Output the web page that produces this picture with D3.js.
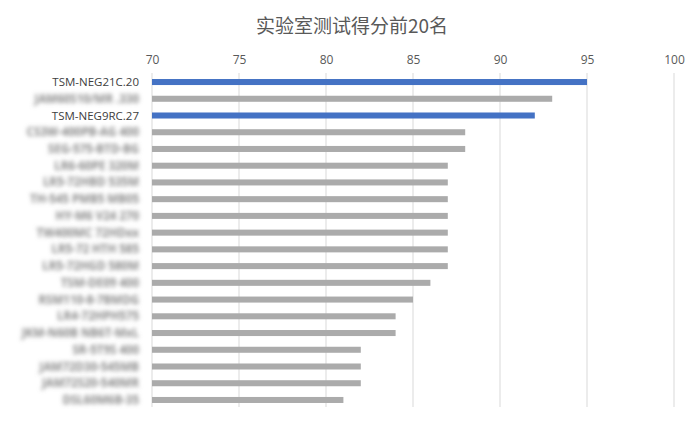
<!DOCTYPE html>
<html>
<head>
<meta charset="utf-8">
<script src="https://cdn.jsdelivr.net/npm/d3@7"></script>
<style>
  body { margin: 0; background: #fff; }
  svg { display: block; }
</style>
</head>
<body>
<div id="chart"></div>
<script>
// chart data
const labels = [
  'TSM-NEG21C.20', 'JAM60S10/MR .330', 'TSM-NEG9RC.27', 'CS3W-400PB-AG 400',
  'SEG-575-BTD-BG', 'LR6-60PE 320M', 'LR5-72HBD 535M', 'TH-545 PMB5 MB05',
  'HY-M6 V24 270', 'TW400MC 72HDxx', 'LR5-72 HTH 585', 'LR5-72HGD 580M',
  'TSM-DE09 400', 'RSM110-8-7BMDG', 'LR4-72HPH575', 'JKM-N60B NB6T-MxL',
  'SR-5T9S 400', 'JAM72D30-545MB', 'JAM72S20-540MR', 'DSL60M6B-35'
];
const scores = [95, 93, 92, 88, 88, 87, 87, 87, 87, 87, 87, 87, 86, 85, 84, 84, 82, 82, 82, 81];
const highlighted = ['TSM-NEG21C.20', 'TSM-NEG9RC.27'];
const tickValues = [70, 75, 80, 85, 90, 95, 100];
const title = '实验室测试得分前20名';

const width = 700, height = 424;
const margin = { top: 74, right: 26, bottom: 16, left: 152 };

const svg = d3.select('#chart').append('svg')
  .attr('width', width)
  .attr('height', height);

// blur for the masked model names
svg.append('defs').append('filter')
  .attr('id', 'soft')
  .attr('x', '-10%').attr('width', '120%')
  .attr('y', '-40%').attr('height', '180%')
  .append('feGaussianBlur')
  .attr('stdDeviation', 2);

const x = d3.scaleLinear()
  .domain([70, 100])
  .range([margin.left, width - margin.right]);

const y = d3.scaleBand()
  .domain(labels)
  .range([margin.top, height - margin.bottom])
  .paddingInner(0.64)
  .paddingOuter(0.3);

// title
svg.append('text')
  .attr('x', 352)
  .attr('y', 33)
  .attr('text-anchor', 'middle')
  .attr('font-family', '"Noto Sans CJK SC", "Noto Sans", sans-serif')
  .attr('font-size', 19)
  .attr('fill', '#595959')
  .text(title);

// gridlines + top axis labels
const grid = svg.append('g');
grid.selectAll('line')
  .data(tickValues)
  .enter().append('line')
  .attr('x1', d => x(d))
  .attr('x2', d => x(d))
  .attr('y1', margin.top - 1)
  .attr('y2', height - 17)
  .attr('stroke', '#d9d9d9')
  .attr('stroke-width', 1);

const axis = d3.axisTop(x).tickValues(tickValues).tickSize(0).tickPadding(0);
svg.append('g')
  .attr('transform', `translate(0,${64})`)
  .call(axis)
  .call(g => g.select('.domain').remove())
  .call(g => g.selectAll('text')
    .attr('font-family', '"Open Sans", "Noto Sans", sans-serif')
    .attr('font-size', 12)
    .attr('fill', '#595959'));

// bars
svg.append('g')
  .selectAll('rect')
  .data(labels)
  .enter().append('rect')
  .attr('x', x(70))
  .attr('y', d => y(d))
  .attr('width', (d, i) => x(scores[i]) - x(70))
  .attr('height', y.bandwidth())
  .attr('fill', d => highlighted.includes(d) ? '#4472c4' : '#ababab');

// category labels
svg.append('g')
  .selectAll('text')
  .data(labels)
  .enter().append('text')
  .attr('x', 139)
  .attr('y', d => y(d) + y.bandwidth() / 2)
  .attr('dy', '0.35em')
  .attr('text-anchor', 'end')
  .attr('font-family', '"Open Sans", "Noto Sans", sans-serif')
  .attr('font-size', 11.5)
  .attr('font-weight', d => highlighted.includes(d) ? 400 : 700)
  .attr('fill', d => highlighted.includes(d) ? '#404040' : '#8a8a8a')
  .attr('filter', d => highlighted.includes(d) ? null : 'url(#soft)')
  .text(d => d);
</script>
</body>
</html>
